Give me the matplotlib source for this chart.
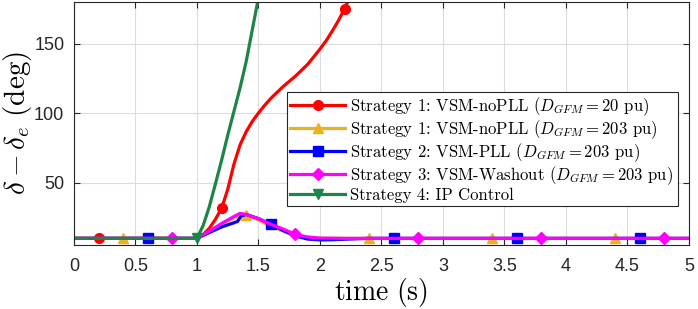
import matplotlib
matplotlib.use("Agg")
import matplotlib.pyplot as plt
import numpy as np

plt.rcParams['mathtext.fontset'] = 'cm'
plt.rcParams['axes.unicode_minus'] = False

# ---- data ----
t_red = [0, 0.2, 1.0, 1.05, 1.1, 1.15, 1.2, 1.25, 1.3, 1.35, 1.4, 1.45, 1.5, 1.55, 1.6, 1.7,
         1.8, 1.9, 2.0, 2.05, 2.1, 2.15, 2.2, 2.25]
y_red = [9.8, 9.8, 9.8, 12.5, 17, 23.5, 31.4, 45, 63, 77, 86.5, 94, 100, 105.5, 110.5, 119,
         126.5, 135, 146, 152, 159, 166.5, 175, 185]
m_red = [0.2, 1.2, 2.2]

t_yel = [0, 0.4, 1.0, 1.1, 1.2, 1.3, 1.38, 1.4, 1.45, 1.5, 1.6, 1.7, 1.8, 1.9, 2.0, 2.2, 2.4, 3.4, 4.4, 5]
y_yel = [9.8, 9.8, 9.8, 14.5, 19.5, 24.5, 26.5, 26.3, 25, 23, 18.5, 15, 11.5, 10.2, 9.8, 9.8, 9.8, 9.8, 9.8, 9.8]
m_yel = [0.4, 1.4, 2.4, 3.4, 4.4]

t_blu = [0, 0.6, 1.0, 1.1, 1.2, 1.3, 1.33, 1.36, 1.4, 1.5, 1.6, 1.7, 1.8, 1.9, 2.0, 2.1, 2.2, 2.4,
         2.6, 3.6, 4.6, 5]
y_blu = [9.8, 9.8, 9.8, 14, 18, 21, 22, 26, 27, 24, 20, 15.5, 11.5, 9.3, 8.7, 8.8, 9.2, 9.8,
         9.8, 9.8, 9.8, 9.8]
m_blu = [0.6, 1.6, 2.6, 3.6, 4.6]

t_mag = [0, 0.8, 1.0, 1.1, 1.2, 1.3, 1.35, 1.4, 1.5, 1.6, 1.7, 1.8, 1.9, 2.0, 2.2, 2.8, 3.8, 4.8, 5]
y_mag = [9.8, 9.8, 9.8, 15, 20.5, 25.5, 27.8, 27, 24, 20, 16.5, 12.7, 10.8, 10, 9.8, 9.8, 9.8, 9.8, 9.8]
m_mag = [0.8, 1.8, 2.8, 3.8, 4.8]

t_grn = [0, 1.0, 1.05, 1.1, 1.15, 1.2, 1.25, 1.3, 1.35, 1.4, 1.45, 1.5]
y_grn = [9.8, 9.8, 19, 32.5, 49, 66, 84, 101, 118, 137, 160, 183]
m_grn = [1.0]

labels = [
    r'Strategy 1: VSM-noPLL ($D_{GFM}=20$ pu)',
    r'Strategy 1: VSM-noPLL ($D_{GFM}=203$ pu)',
    r'Strategy 2: VSM-PLL ($D_{GFM}=203$ pu)',
    r'Strategy 3: VSM-Washout ($D_{GFM}=203$ pu)',
    r'Strategy 4: IP Control',
]
xticks = [0, 0.5, 1, 1.5, 2, 2.5, 3, 3.5, 4, 4.5, 5]
xticklabels = ['0', '0.5', '1', '1.5', '2', '2.5', '3', '3.5', '4', '4.5', '5']
yticks = [50, 100, 150]

series = [
    (t_red, y_red, m_red, '#FF0000', 'o'),
    (t_yel, y_yel, m_yel, '#EDB120', '^'),
    (t_blu, y_blu, m_blu, '#0000FF', 's'),
    (t_mag, y_mag, m_mag, '#FF00FF', 'D'),
    (t_grn, y_grn, m_grn, '#1E8449', 'v'),
]

fig = plt.figure(figsize=(6.98, 3.09), dpi=100)
ax = fig.add_axes([0.106, 0.207, 0.881, 0.787])

for (t, y, m, c, mk), lab in zip(series, labels):
    ta = np.asarray(t)
    idx = [int(np.argmin(np.abs(ta - v))) for v in m]
    ms = 6.5 if mk == 'D' else 7
    ax.plot(t, y, color=c, lw=2.3, marker=mk, markevery=idx, markersize=ms,
            markeredgecolor=c, markerfacecolor=c, label=lab, clip_on=True,
            solid_joinstyle='round')

ax.set_xlim(0, 5)
ax.set_ylim(5, 180)
ax.set_xticks(xticks)
ax.set_xticklabels(xticklabels)
ax.set_yticks(yticks)
ax.tick_params(direction='in', top=True, right=True, length=4, labelsize=13,
               colors='#262626', width=0.8)
ax.tick_params(axis='x', pad=9)
ax.tick_params(axis='y', pad=7)
for lbl in ax.get_xticklabels() + ax.get_yticklabels():
    lbl.set_fontfamily('Liberation Sans')
ax.grid(True, color='#dcdcdc', lw=0.8)
for s in ax.spines.values():
    s.set_color('#262626')
    s.set_linewidth(0.8)

ax.set_xlabel(r'$\mathrm{time\ (s)}$', fontsize=20, labelpad=1)
ax.set_ylabel(r'$\delta-\delta_e\ \mathrm{(deg)}$', fontsize=21, labelpad=0)

leg = ax.legend(loc='lower left', bbox_to_anchor=(0.346, 0.16, 0.636, 0.432),
                mode='expand', fancybox=False, framealpha=1, edgecolor='#262626',
                prop={'family': 'cmr10', 'size': 12}, handlelength=3.3,
                borderpad=0.2, labelspacing=0.02, handletextpad=0.3, borderaxespad=0)
leg.get_frame().set_linewidth(0.8)

fig.savefig('out.png', dpi=100)
